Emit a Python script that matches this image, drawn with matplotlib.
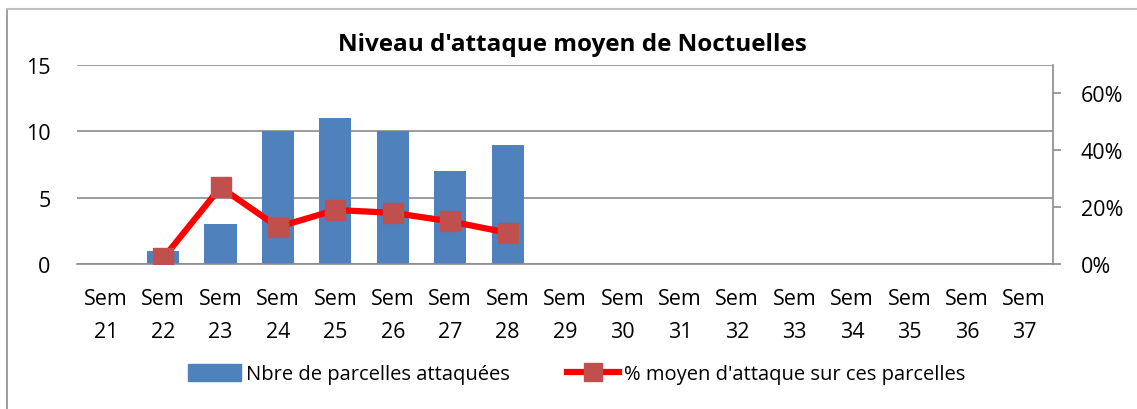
import matplotlib
matplotlib.use("Agg")
import matplotlib.pyplot as plt
from matplotlib.lines import Line2D
import numpy as np

weeks = [f"Sem\n{w}" for w in range(21, 38)]
parcelles = [0, 1, 3, 10, 11, 10, 7, 9, 0, 0, 0, 0, 0, 0, 0, 0, 0]
pct_weeks_idx = [1, 2, 3, 4, 5, 6, 7]
pct_attaque = [0.02, 0.27, 0.13, 0.19, 0.18, 0.15, 0.11]

title = "Niveau d'attaque moyen de Noctuelles"
bar_label = "Nbre de parcelles attaquées"
line_label = "% moyen d'attaque sur ces parcelles"

plt.rcParams['font.family'] = ['Open Sans', 'DejaVu Sans']
W, H = 1137, 410
fig = plt.figure(figsize=(W / 100, H / 100), dpi=100)

# plot area in pixels
L, R, T, B = 77, 1053, 66, 265
ax = fig.add_axes([L / W, 1 - B / H, (R - L) / W, (B - T) / H])
ax2 = ax.twinx()

grid_col = "#8c8c8c"
x = np.arange(len(weeks))
ax.bar(x, parcelles, width=0.56, color="#4F81BD", zorder=2)
ax.set_xlim(-0.5, len(weeks) - 0.5)
ax.set_ylim(0, 15)
ax.set_yticks([0, 5, 10, 15])
ax.yaxis.grid(True, color=grid_col, linewidth=1.2, zorder=0)
ax.set_axisbelow(True)
ax.set_xticks(x)
ax.set_xticklabels(weeks, fontsize=15.5, linespacing=1.75)
ax.tick_params(axis='x', length=0, pad=17)
ax.tick_params(axis='y', length=0, labelsize=15.5, pad=19)
for s in ['top', 'left', 'right']:
    ax.spines[s].set_visible(False)
ax.spines['bottom'].set_color(grid_col)
ax.spines['bottom'].set_linewidth(1.2)

ax2.plot(pct_weeks_idx, pct_attaque, color="#FF0000", linewidth=4.5,
         marker='s', markersize=15, markerfacecolor="#C0504D",
         markeredgecolor="#C0504D", zorder=3)
ax2.set_ylim(0, 0.70)
ax2.set_yticks([0, 0.2, 0.4, 0.6])
ax2.set_yticklabels(["0%", "20%", "40%", "60%"])
ax2.tick_params(axis='y', labelsize=15.5, length=6, color=grid_col, width=1.2, pad=14)
for s in ['top', 'left', 'bottom']:
    ax2.spines[s].set_visible(False)
ax2.spines['right'].set_color(grid_col)
ax2.spines['right'].set_linewidth(1.2)

fig.text(572 / W, 1 - 45 / H, title, ha='center', va='center',
         fontsize=17.5, fontweight='bold')

# legend
handles = [
    plt.Rectangle((0, 0), 1, 1, color="#4F81BD"),
    Line2D([0], [0], color="#FF0000", linewidth=4.5, marker='s', markersize=13,
           markerfacecolor="#C0504D", markeredgecolor="#C0504D"),
]
fig.legend(handles, [bar_label, line_label], loc='center',
           bbox_to_anchor=(577 / W, 1 - 375 / H), ncol=2, frameon=False,
           fontsize=14.5, handlelength=2.6, handleheight=0.9, handletextpad=0.25,
           columnspacing=2.85, borderpad=0, borderaxespad=0)

# chart frame (left and top edges visible)
frame_col = "#8c8c8c"
fig.add_artist(Line2D([7 / W, 7 / W], [0, 1 - 10 / H], transform=fig.transFigure,
                      color=frame_col, linewidth=1.2))
fig.add_artist(Line2D([7 / W, 1], [1 - 10 / H, 1 - 10 / H], transform=fig.transFigure,
                      color="#c0c0c0", linewidth=1.5))

fig.savefig("out.png", dpi=100, facecolor="white")
